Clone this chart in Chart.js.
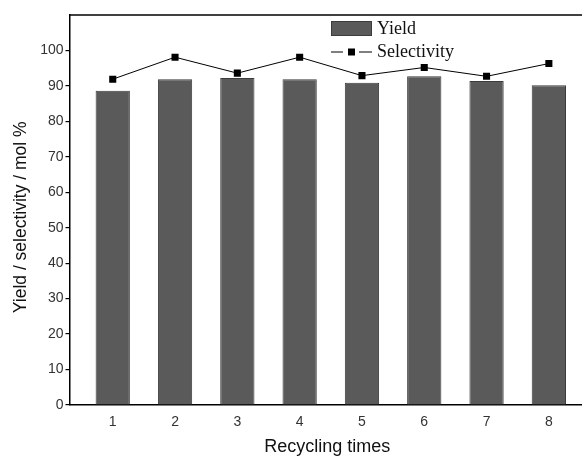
<!DOCTYPE html>
<html>
<head>
<meta charset="utf-8">
<script src="https://cdn.jsdelivr.net/npm/chart.js@4/dist/chart.umd.min.js"></script>
<style>
  html, body { margin: 0; padding: 0; background: #fff; overflow: hidden; }
  #wrap { width: 582px; height: 457px; overflow: hidden; }
</style>
</head>
<body>
<div id="wrap"><canvas id="cycle-chart" width="590" height="457"></canvas></div>
<script>
const cycles = [1, 2, 3, 4, 5, 6, 7, 8];
const yieldValues = [88.6, 91.9, 92.2, 91.9, 90.9, 92.7, 91.4, 90.2];
const selectivityValues = [91.9, 98.1, 93.6, 98.1, 92.9, 95.2, 92.7, 96.3];
const yTicks = [0, 10, 20, 30, 40, 50, 60, 70, 80, 90, 100];

// frame line on top + legend drawn inside the plot
const framePlugin = {
    id: 'frameAndLegend',
    afterDraw(chart) {
        const ctx = chart.ctx;
        const area = chart.chartArea;
        ctx.save();
        ctx.strokeStyle = '#000';
        ctx.lineWidth = 1.5;
        ctx.beginPath();
        ctx.moveTo(area.left, area.top);
        ctx.lineTo(area.right, area.top);
        ctx.stroke();

        const ds = chart.data.datasets;
        const lx = 331, ly = 21;
        ctx.fillStyle = ds[0].backgroundColor;
        ctx.strokeStyle = ds[0].borderColor;
        ctx.lineWidth = 1;
        ctx.fillRect(lx, ly, 41, 15);
        ctx.strokeRect(lx + 0.5, ly + 0.5, 40, 14);

        ctx.strokeStyle = '#000';
        ctx.lineWidth = 1;
        ctx.beginPath();
        ctx.moveTo(lx, 52);
        ctx.lineTo(lx + 12, 52);
        ctx.moveTo(lx + 28, 52);
        ctx.lineTo(lx + 41, 52);
        ctx.stroke();
        ctx.fillStyle = '#000';
        ctx.fillRect(lx + 17, 48.5, 7, 7);

        ctx.font = '18px "Liberation Serif", "Times New Roman", serif';
        ctx.textBaseline = 'middle';
        ctx.fillStyle = '#111';
        ctx.fillText(ds[0].label, lx + 46, 29);
        ctx.fillText(ds[1].label, lx + 46, 52);
        ctx.restore();
    }
};

const ctx = document.getElementById('cycle-chart').getContext('2d');
new Chart(ctx, {
    data: {
        datasets: [{
            type: 'bar',
            label: 'Yield',
            data: cycles.map((c, i) => ({ x: c, y: yieldValues[i] })),
            backgroundColor: '#5a5a5a',
            borderColor: '#3c3c3c',
            borderWidth: 1,
            barPercentage: 0.55,
            categoryPercentage: 1,
            order: 2
        }, {
            type: 'line',
            label: 'Selectivity',
            data: cycles.map((c, i) => ({ x: c, y: selectivityValues[i] })),
            borderColor: '#000',
            borderWidth: 1,
            backgroundColor: '#000',
            pointStyle: 'rect',
            pointRadius: 5,
            pointBorderWidth: 0,
            order: 1
        }]
    },
    options: {
        responsive: false,
        animation: false,
        layout: { padding: { top: 15, left: 0, right: 0, bottom: 0 } },
        plugins: {
            legend: { display: false },
            tooltip: { enabled: false }
        },
        scales: {
            x: {
                type: 'linear',
                offset: false,
                min: 0.306,
                max: 8.58,
                afterBuildTicks: s => { s.ticks = cycles.map(v => ({ value: v })); },
                afterFit: s => { s.height = 52; s.paddingRight = 0; s.paddingLeft = 0; },
                grid: { display: false, drawTicks: false },
                border: { color: '#000', width: 1.5 },
                ticks: {
                    padding: 9,
                    color: '#333',
                    font: { family: '"Liberation Sans", Arial, sans-serif', size: 14 }
                },
                title: {
                    display: true,
                    text: 'Recycling times',
                    color: '#111',
                    font: { family: '"Liberation Sans", Arial, sans-serif', size: 18, lineHeight: 1 },
                    padding: { top: 0, bottom: 1 }
                }
            },
            y: {
                min: 0,
                max: 110,
                afterBuildTicks: s => { s.ticks = yTicks.map(v => ({ value: v })); },
                afterFit: s => { s.width = 69.5; },
                grid: { drawOnChartArea: false, drawTicks: true, tickLength: 4, color: '#000', lineWidth: 1.2 },
                border: { color: '#000', width: 1.5 },
                ticks: {
                    padding: 2,
                    color: '#333',
                    font: { family: '"Liberation Sans", Arial, sans-serif', size: 14 }
                },
                title: {
                    display: true,
                    text: 'Yield / selectivity / mol %   ',
                    color: '#111',
                    font: { family: '"Liberation Sans", Arial, sans-serif', size: 17.5, lineHeight: 1.2 },
                    padding: { top: 11, bottom: 0 }
                }
            }
        }
    },
    plugins: [framePlugin]
});
</script>
</body>
</html>
